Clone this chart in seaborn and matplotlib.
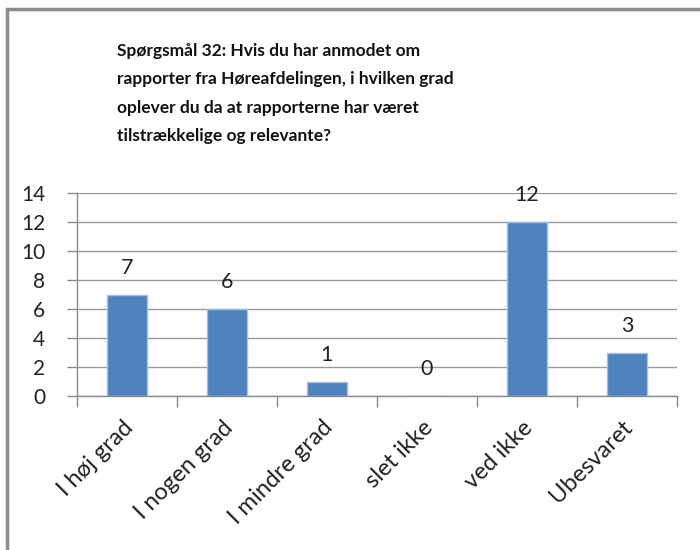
import matplotlib
matplotlib.use("Agg")
import matplotlib.pyplot as plt
import matplotlib.transforms as mtransforms
import seaborn as sns
import pandas as pd
from matplotlib.patches import Rectangle

categories = ["I høj grad", "I nogen grad", "I mindre grad", "slet ikke", "ved ikke", "Ubesvaret"]
values = [7, 6, 1, 0, 12, 3]
yticks = [0, 2, 4, 6, 8, 10, 12, 14]
title = ("Spørgsmål 32: Hvis du har anmodet om\n"
         "rapporter fra Høreafdelingen, i hvilken grad\n"
         "oplever du da at rapporterne har været\n"
         "tilstrækkelige og relevante?")

sns.set_theme(style="white")
plt.rcParams['font.family'] = ['Lato', 'DejaVu Sans']

df = pd.DataFrame({"cat": categories, "val": values})

fig = plt.figure(figsize=(7, 5.5), dpi=100)
ax = fig.add_axes([0.11, 0.28, 0.857, 0.369])

sns.barplot(data=df, x="cat", y="val", color="#4F81BD", width=0.4,
            edgecolor="#A7C0E0", linewidth=1.0, saturation=1, ax=ax, zorder=3)

ax.set_ylim(0, 14)
ax.set_xlim(-0.5, len(categories) - 0.5)
ax.set_yticks(yticks)
ax.set_yticklabels([str(t) for t in yticks], fontsize=15, color="#222222")
ax.yaxis.grid(True, color="#9A9A9A", linewidth=1.0, zorder=0)
ax.set_axisbelow(True)
ax.set_xlabel("")
ax.set_ylabel("")

for side in ["top", "right"]:
    ax.spines[side].set_visible(False)
for side in ["left", "bottom"]:
    ax.spines[side].set_color("#8A8A8A")
    ax.spines[side].set_linewidth(1.0)

# category boundary ticks
ax.set_xticks([i - 0.5 for i in range(len(categories) + 1)], minor=True)
ax.tick_params(axis="x", which="minor", length=8, color="#8A8A8A", width=1, direction="out", bottom=True)
ax.tick_params(axis="x", which="major", length=0, pad=15)
ax.tick_params(axis="y", which="major", length=7, color="#8A8A8A", width=1,
               direction="out", left=True, pad=16)
ax.set_xticks(range(len(categories)))
ax.set_xticklabels(categories, rotation=45, ha="right", rotation_mode="anchor",
                   fontsize=17, color="#222222")
shift = mtransforms.ScaledTranslation(-0.05, 0, fig.dpi_scale_trans)
for lbl in ax.get_xticklabels():
    lbl.set_transform(lbl.get_transform() + shift)

for i, v in enumerate(values):
    ax.annotate(str(v), (i, v), xytext=(0, 12), textcoords="offset points",
                ha="center", va="bottom", fontsize=15.5, color="#222222")

fig.text(117 / 700, 1 - 43 / 550, title, ha="left", va="top",
         fontsize=12.5, fontweight="bold", color="#111111", linespacing=1.95)

# outer frame (left and top visible)
fig.patches.append(Rectangle((7 / 700, -0.1), 1.2, 1 - 9 / 550 + 0.1,
                             transform=fig.transFigure, fill=False,
                             edgecolor="#8C8C8C", linewidth=2.5, zorder=0))

fig.savefig("out.png", dpi=100)
